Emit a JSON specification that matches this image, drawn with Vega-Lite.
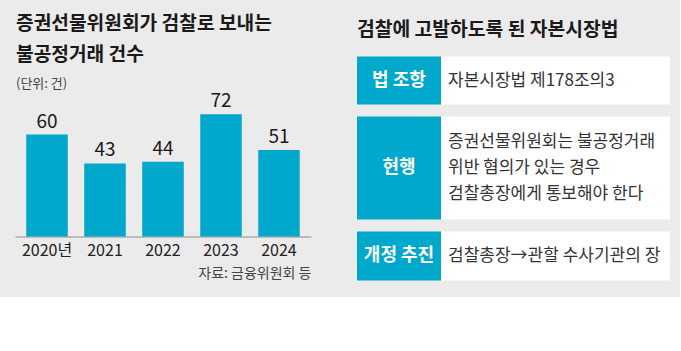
{
  "$schema": "https://vega.github.io/schema/vega-lite/v6.json",
  "background": "#ebebeb",
  "padding": {"left": 15, "right": 10, "top": 14.5, "bottom": 16},
  "spacing": 46,
  "config": {
    "view": {"stroke": null},
    "font": "Noto Sans CJK KR",
    "concat": {"spacing": 0}
  },
  "datasets": {
    "bars": [
      {"연도": "2020년", "건수": 60},
      {"연도": "2021", "건수": 43},
      {"연도": "2022", "건수": 44},
      {"연도": "2023", "건수": 72},
      {"연도": "2024", "건수": 51}
    ],
    "table": [
      {"구분": "법 조항", "내용": "자본시장법 제178조의3"},
      {"구분": "현행", "내용": "증권선물위원회는 불공정거래\n위반 혐의가 있는 경우\n검찰총장에게 통보해야 한다"},
      {"구분": "개정 추진", "내용": "검찰총장→관할 수사기관의 장"}
    ]
  },
  "hconcat": [
    {
      "data": {"name": "bars"},
      "width": 296,
      "height": 180,
      "title": {
        "text": ["증권선물위원회가 검찰로 보내는", "불공정거래 건수"],
        "subtitle": "(단위: 건)",
        "anchor": "start",
        "frame": "group",
        "dx": 1,
        "fontSize": 19.2,
        "fontWeight": "bold",
        "color": "#1a1a1a",
        "lineHeight": 31,
        "subtitleFontSize": 13,
        "subtitleColor": "#444444",
        "subtitlePadding": 12,
        "offset": -34
      },
      "encoding": {
        "x": {
          "field": "연도",
          "type": "ordinal",
          "sort": null,
          "scale": {"paddingInner": 0.284, "paddingOuter": 0.194},
          "axis": {
            "title": "자료: 금융위원회 등",
            "titleAnchor": "end",
            "titleFontSize": 14,
            "titleFontWeight": "normal",
            "titleColor": "#444444",
            "titlePadding": 8,
            "labelFontSize": 16,
            "labelColor": "#222222",
            "labelPadding": 6,
            "labelAngle": 0,
            "ticks": false,
            "domainColor": "#8a8a8a",
            "domainWidth": 1
          }
        },
        "y": {
          "field": "건수",
          "type": "quantitative",
          "scale": {"domain": [0, 106]},
          "axis": null
        }
      },
      "layer": [
        {"mark": {"type": "bar", "color": "#00a8cc"}},
        {
          "mark": {"type": "text", "baseline": "bottom", "dy": -3, "fontSize": 19, "color": "#1a1a1a"},
          "encoding": {"text": {"field": "건수", "type": "quantitative"}}
        }
      ]
    },
    {
      "title": {
        "text": "검찰에 고발하도록 된 자본시장법",
        "anchor": "start",
        "fontSize": 19.3,
        "fontWeight": "bold",
        "color": "#1a1a1a",
        "offset": 16
      },
      "spacing": 12,
      "vconcat": [
        {
          "spacing": 0,
          "hconcat": [
            {
              "data": {"name": "table"},
              "transform": [{"filter": "datum['구분'] === '법 조항'"}],
              "width": 84, "height": 48,
              "view": {"fill": "#00a8cc", "stroke": null},
              "mark": {"type": "text", "fontSize": 18, "fontWeight": "bold", "color": "white"},
              "encoding": {"text": {"field": "구분"}}
            },
            {
              "data": {"name": "table"},
              "transform": [{"filter": "datum['구분'] === '법 조항'"}],
              "width": 229, "height": 48,
              "view": {"fill": "white", "stroke": null},
              "mark": {"type": "text", "align": "left", "fontSize": 17, "color": "#333333", "lineBreak": "\n", "lineHeight": 26},
              "encoding": {"text": {"field": "내용"}, "x": {"value": 7}}
            }
          ]
        },
        {
          "spacing": 0,
          "hconcat": [
            {
              "data": {"name": "table"},
              "transform": [{"filter": "datum['구분'] === '현행'"}],
              "width": 84, "height": 103,
              "view": {"fill": "#00a8cc", "stroke": null},
              "mark": {"type": "text", "fontSize": 18, "fontWeight": "bold", "color": "white"},
              "encoding": {"text": {"field": "구분"}}
            },
            {
              "data": {"name": "table"},
              "transform": [{"filter": "datum['구분'] === '현행'"}],
              "width": 229, "height": 103,
              "view": {"fill": "white", "stroke": null},
              "mark": {"type": "text", "align": "left", "dy": -26, "fontSize": 17, "color": "#333333", "lineBreak": "\n", "lineHeight": 26},
              "encoding": {"text": {"field": "내용"}, "x": {"value": 7}}
            }
          ]
        },
        {
          "spacing": 0,
          "hconcat": [
            {
              "data": {"name": "table"},
              "transform": [{"filter": "datum['구분'] === '개정 추진'"}],
              "width": 84, "height": 49,
              "view": {"fill": "#00a8cc", "stroke": null},
              "mark": {"type": "text", "fontSize": 18, "fontWeight": "bold", "color": "white"},
              "encoding": {"text": {"field": "구분"}}
            },
            {
              "data": {"name": "table"},
              "transform": [{"filter": "datum['구분'] === '개정 추진'"}],
              "width": 229, "height": 49,
              "view": {"fill": "white", "stroke": null},
              "mark": {"type": "text", "align": "left", "fontSize": 17, "color": "#333333", "lineBreak": "\n", "lineHeight": 26},
              "encoding": {"text": {"field": "내용"}, "x": {"value": 7}}
            }
          ]
        }
      ]
    }
  ]
}
